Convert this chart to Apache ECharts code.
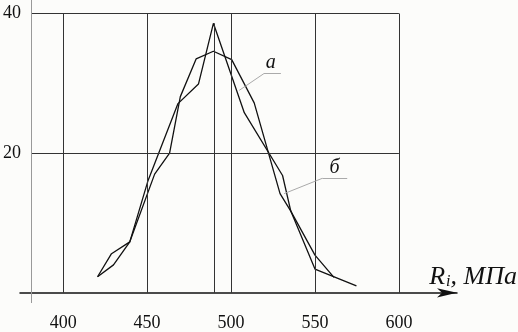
<!DOCTYPE html>
<html>
<head>
<meta charset="utf-8">
<script src="https://cdn.jsdelivr.net/npm/echarts@6/dist/echarts.min.js"></script>
<style>
html,body{margin:0;padding:0;background:#fcfcfa;}
#c{width:518px;height:332px;}
</style>
</head>
<body>
<div id="c"></div>
<script>
// tick labels
var xTicks = [400, 450, 500, 550, 600];
var yTicks = [20, 40];
// curve "а" (sharp peak)
var curveAX = [420.5, 428.8, 439.7, 450.6, 468.4, 480.6, 489.5, 507.9, 530.7, 535.6, 550, 561.3];
var curveAY = [2.3, 5.6, 7.3, 16.1, 27.1, 29.9, 38.6, 25.8, 16.8, 11.7, 5.4, 2.2];
// curve "б" (flatter peak)
var curveBX = [420.5, 430, 439.7, 454.5, 463.4, 469.8, 479.2, 489.5, 500.4, 513.8, 529.2, 535.6, 550, 574.7];
var curveBY = [2.3, 4.0, 7.3, 17.0, 20.0, 28.1, 33.5, 34.6, 33.4, 27.2, 14.2, 11.7, 3.4, 1.0];
// mean line
var meanX = 490;
var meanY = 38.6;
// annotation labels
var labelNames = ['а', 'б'];

function pairs(xs, ys) { return xs.map(function (x, i) { return [x, ys[i]]; }); }

var xMin = 374.3, xMax = 634.6, yMin = -1.46, yMax = 41.94;
var gridLeftX = 381;

var gridLines = [];
xTicks.forEach(function (x) {
  gridLines.push([{ coord: [x, 0] }, { coord: [x, yTicks[yTicks.length - 1]] }]);
});
yTicks.forEach(function (y) {
  gridLines.push([{ coord: [gridLeftX, y] }, { coord: [xTicks[xTicks.length - 1], y] }]);
});
gridLines.push([{ coord: [meanX, 0] }, { coord: [meanX, meanY] }]);

var axisLineY = [[{ coord: [gridLeftX, yMin] }, { coord: [gridLeftX, yMax] }]];

var leaders = [
  [{ coord: [504.9, 29.0] }, { coord: [519.6, 31.4] }],
  [{ coord: [519.6, 31.4] }, { coord: [529.7, 31.4] }],
  [{ coord: [531.6, 14.2] }, { coord: [554.4, 16.4] }],
  [{ coord: [554.4, 16.4] }, { coord: [569.2, 16.4] }]
];

var chart = echarts.init(document.getElementById('c'));
chart.setOption({
  backgroundColor: '#fcfcfa',
  animation: false,
  grid: { left: 18, right: 61, top: 0, bottom: 19 },
  xAxis: {
    type: 'value', min: xMin, max: xMax,
    axisLine: { show: true, onZero: true, symbol: ['none', 'arrow'], symbolSize: [7, 20],
      lineStyle: { color: '#111', width: 1.5 } },
    axisTick: { show: false },
    splitLine: { show: false },
    axisLabel: { customValues: xTicks, margin: 11, fontSize: 18,
      fontFamily: 'Liberation Serif', color: '#111' }
  },
  yAxis: {
    type: 'value', min: yMin, max: yMax,
    axisLine: { show: false },
    axisTick: { show: false },
    splitLine: { show: false },
    axisLabel: { customValues: yTicks, margin: -1, fontSize: 18,
      fontFamily: 'Liberation Serif', color: '#111' }
  },
  graphic: [{
    type: 'text', right: 1, top: 264,
    style: {
      text: '{r|R}{s|i}{t|, МПа}',
      rich: {
        r: { fontFamily: 'Liberation Serif', fontStyle: 'italic', fontSize: 26, fill: '#111' },
        s: { fontFamily: 'Liberation Serif', fontStyle: 'italic', fontSize: 16, fill: '#111', padding: [10, 0, 0, 1] },
        t: { fontFamily: 'Liberation Serif', fontStyle: 'italic', fontSize: 26, fill: '#111' }
      }
    }
  }],
  series: [
    {
      type: 'line', name: 'frame', data: [], silent: true,
      markLine: {
        silent: true, symbol: 'none', animation: false,
        label: { show: false },
        data: gridLines,
        lineStyle: { color: '#333', width: 1, type: 'solid' }
      }
    },
    {
      type: 'line', name: 'yaxis', data: [], silent: true,
      markLine: {
        silent: true, symbol: 'none', animation: false,
        label: { show: false },
        data: axisLineY,
        lineStyle: { color: '#999', width: 1, type: 'solid' }
      }
    },
    {
      type: 'line', name: 'leaders', data: [], silent: true,
      markLine: {
        silent: true, symbol: 'none', animation: false,
        label: { show: false },
        data: leaders,
        lineStyle: { color: '#aaa', width: 1, type: 'solid' }
      },
      markPoint: {
        silent: true, symbol: 'circle', symbolSize: 0,
        label: { show: true, position: 'inside', formatter: '{b}', fontFamily: 'Liberation Serif',
          fontStyle: 'italic', fontSize: 20, color: '#111' },
        data: [
          { name: labelNames[0], coord: [523.7, 33.0] },
          { name: labelNames[1], coord: [561.7, 17.9] }
        ]
      }
    },
    {
      type: 'line', name: 'а', data: pairs(curveAX, curveAY), showSymbol: false,
      lineStyle: { color: '#111', width: 1.3 }, itemStyle: { color: '#111' }
    },
    {
      type: 'line', name: 'б', data: pairs(curveBX, curveBY), showSymbol: false,
      lineStyle: { color: '#111', width: 1.3 }, itemStyle: { color: '#111' }
    }
  ]
});
</script>
</body>
</html>
